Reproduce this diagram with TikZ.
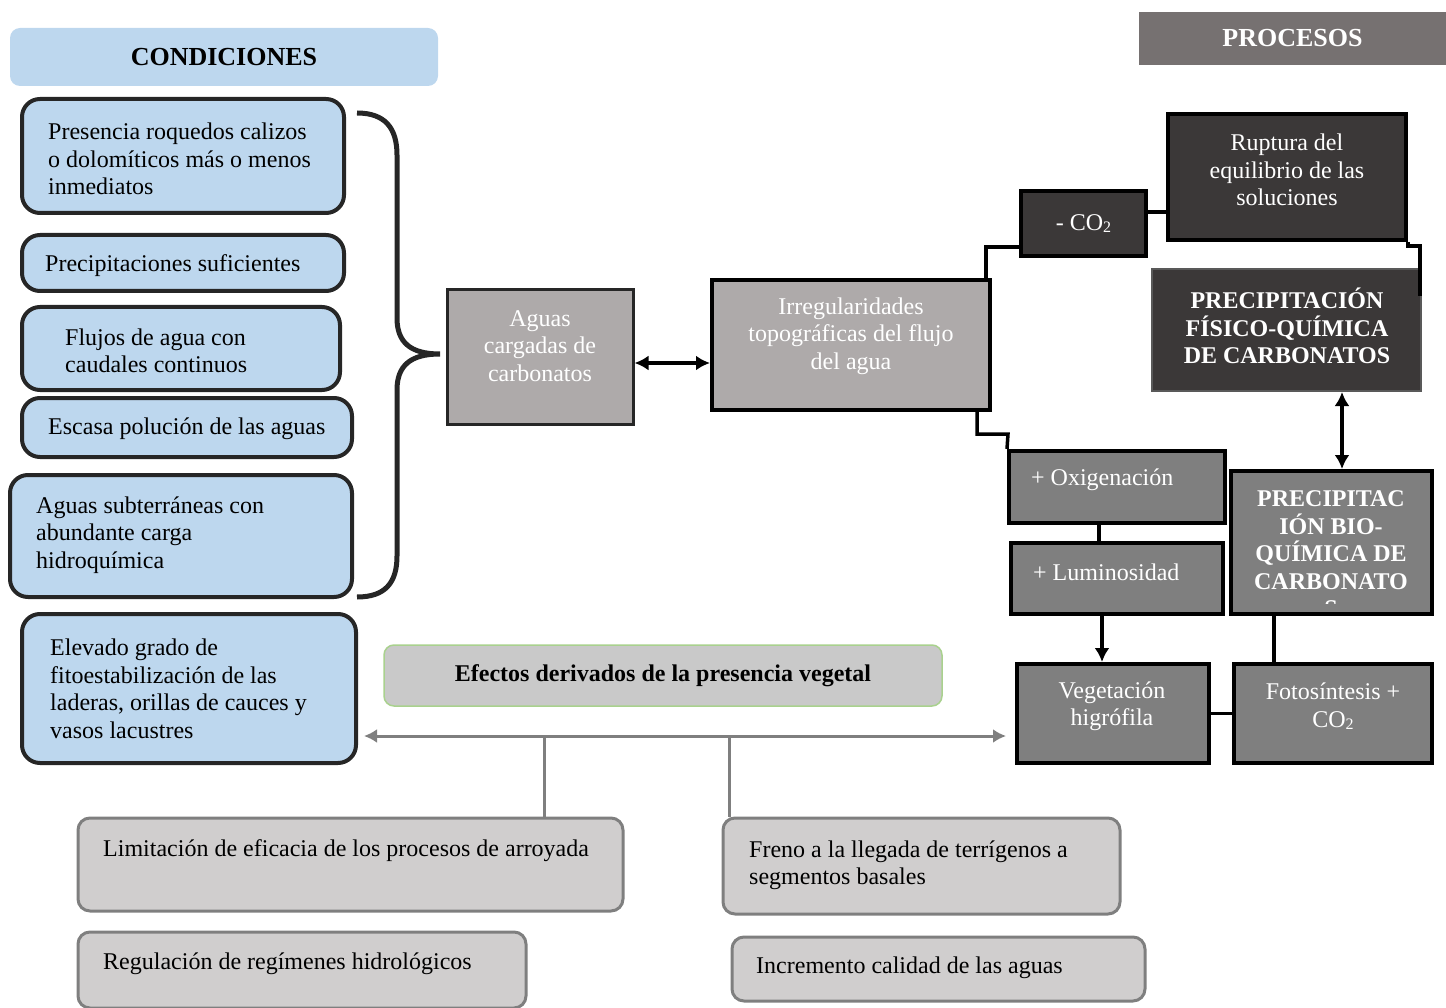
\documentclass[tikz,border=0pt]{standalone}
\usepackage{fontspec}
\setmainfont{Liberation Serif}
\usetikzlibrary{arrows.meta,calc}
\definecolor{cblue}{HTML}{BDD7EE}
\definecolor{cedge}{HTML}{262626}
\definecolor{gmid}{HTML}{AEAAAA}
\definecolor{gdark}{HTML}{3B3838}
\definecolor{ggray}{HTML}{7F7F7F}
\definecolor{ghead}{HTML}{767171}
\definecolor{glight}{HTML}{D0CECE}
\definecolor{gefe}{HTML}{C9C9C9}
\definecolor{ggreen}{HTML}{A9D18E}
\newcommand{\subtwo}{\raisebox{-2pt}{\fontsize{16}{16}\selectfont 2}}
\begin{document}
\begin{tikzpicture}[x=1pt,y=-1pt,
  every node/.style={font=\fontsize{24}{27.5}\selectfont},
  cbox/.style={draw=cedge,line width=4,rounded corners=18,fill=cblue,inner sep=0},
  pbox/.style={draw=black,line width=4,inner sep=0},
  bbox/.style={draw=ggray,line width=3,rounded corners=12,fill=glight,inner sep=0},
  ltext/.style={inner sep=0,anchor=west,align=left},
  wtext/.style={inner sep=0,align=center,text=white},
  blk/.style={draw=black,line width=3.5},
  gry/.style={draw=ggray,line width=3},
  tip/.style={-{Latex[length=14pt,width=15pt]}},
  tips/.style={{Latex[length=14pt,width=15pt]}-{Latex[length=14pt,width=15pt]}}
]
\useasboundingbox (0,0) rectangle (1446,1008);

% headers
\node[fill=cblue,rounded corners=10,minimum width=428,minimum height=58,inner sep=0,font=\fontsize{26}{30}\bfseries] (condh) at (224,57) {CONDICIONES};
\node[fill=ghead,minimum width=307,minimum height=53,inner sep=0,text=white,font=\fontsize{26}{30}\bfseries] (proch) at (1292.5,38.5) {PROCESOS};

% conditions
\node[cbox,minimum width=322,minimum height=114] (c1) at (183,156) {};
\node[ltext] (t1) at (48,159) {Presencia roquedos calizos\\o dolomíticos más o menos\\inmediatos};
\node[cbox,minimum width=322,minimum height=56] (c2) at (183,263) {};
\node[ltext] (t2) at (45,266) {Precipitaciones suficientes};
\node[cbox,minimum width=318,minimum height=83] (c3) at (181,348.5) {};
\node[ltext] (t3) at (65,351) {Flujos de agua con\\caudales continuos};
\node[cbox,minimum width=330,minimum height=59] (c4) at (187,427.5) {};
\node[ltext] (t4) at (48,429) {Escasa polución de las aguas};
\node[cbox,minimum width=342,minimum height=122] (c5) at (181,536) {};
\node[ltext] (t5) at (36,535) {Aguas subterráneas con\\abundante carga\\hidroquímica};
\node[cbox,minimum width=334,minimum height=149] (c6) at (189,688.5) {};
\node[ltext] (t6) at (50,689) {Elevado grado de\\fitoestabilización de las\\laderas, orillas de cauces y\\vasos lacustres};

% brace
\draw[draw=cedge,line width=5] (357,113) .. controls (385,113) and (397,128) .. (397,155) -- (397,318)
  .. controls (397,342) and (410,354) .. (440,354)
  .. controls (410,354) and (397,366) .. (397,390) -- (397,556)
  .. controls (397,583) and (385,597) .. (357,597);

% process boxes
\node[draw=cedge,line width=3,fill=gmid,minimum width=186,minimum height=134,inner sep=0] (aguas) at (540,357) {};
\node[wtext] (taguas) at (540,346) {Aguas\\cargadas de\\carbonatos};
\node[pbox,fill=gmid,minimum width=278,minimum height=130] (irreg) at (851,345) {};
\node[wtext] (tirreg) at (851,336) {Irregularidades\\topográficas del flujo\\del agua};
\node[pbox,fill=gdark,minimum width=125,minimum height=65,text=white] (co2) at (1083.5,223.5) {- CO\subtwo};
\node[pbox,fill=gdark,minimum width=238,minimum height=126] (rupt) at (1287,177) {};
\node[wtext] (trupt) at (1287,170) {Ruptura del\\equilibrio de las\\soluciones};
\node[draw=black!65,line width=2,fill=gdark,minimum width=269,minimum height=122,inner sep=0] (fq) at (1286.5,330) {};
\node[wtext,font=\fontsize{24}{27.5}\selectfont\bfseries] (tfq) at (1287,326) {PRECIPITACIÓN\\FÍSICO-QUÍMICA\\DE CARBONATOS};
\node[pbox,fill=ggray,minimum width=201,minimum height=143] (bio) at (1331.5,542.5) {};
\begin{scope}
\clip (1233,473) rectangle (1430,603);
\node[wtext,font=\fontsize{24}{27.5}\selectfont\bfseries] (tbio) at (1331,554) {PRECIPITAC\\IÓN BIO-\\QUÍMICA DE\\CARBONATO\\S};
\end{scope}
\node[pbox,fill=ggray,minimum width=216,minimum height=72] (oxig) at (1117,487) {};
\node[ltext,text=white] (toxig) at (1031,480) {+ Oxigenación};
\node[pbox,fill=ggray,minimum width=212,minimum height=71] (lum) at (1117,578.5) {};
\node[ltext,text=white] (tlum) at (1033,572) {+ Luminosidad};
\node[pbox,fill=ggray,minimum width=192,minimum height=99] (veg) at (1113,713.5) {};
\node[wtext] (tveg) at (1112,706) {Vegetación\\higrófila};
\node[pbox,fill=ggray,minimum width=198,minimum height=99] (foto) at (1333,713.5) {};
\node[wtext] (tfoto) at (1333,706) {Fotosíntesis +\\CO\subtwo};

% effects
\node[draw=ggreen,line width=1.5,rounded corners=10,fill=gefe,minimum width=558,minimum height=61,inner sep=0,font=\fontsize{24}{27.5}\selectfont\bfseries] (efe) at (663,675.5) {Efectos derivados de la presencia vegetal};
\node[bbox,minimum width=545,minimum height=93] (lim) at (350.5,864.5) {};
\node[ltext] (tlim) at (103,851) {Limitación de eficacia de los procesos de arroyada};
\node[bbox,minimum width=397,minimum height=96] (fre) at (921.5,866) {};
\node[ltext] (tfre) at (749,865) {Freno a la llegada de terrígenos a\\segmentos basales};
\node[bbox,minimum width=448,minimum height=76] (reg) at (302,970) {};
\node[ltext] (treg) at (103,964) {Regulación de regímenes hidrológicos};
\node[bbox,minimum width=413,minimum height=64] (inc) at (938.5,969) {};
\node[ltext] (tinc) at (756,968) {Incremento calidad de las aguas};

% connectors
\draw[blk,tips] (aguas.east |- 0,363) -- (irreg.west |- 0,363);
\draw[blk] (irreg.north -| 986,0) |- (co2.west |- 0,247);
\draw[blk] (co2.east |- 0,212) -- (rupt.west |- 0,212);
\draw[blk] (rupt.south east) -- ++(0,4) -| (fq.north -| 1420,0) -- ++(0,28);
\draw[blk,tips] (fq.south -| 1342,0) -- (bio.north -| 1342,0);
\draw[blk] (irreg.south -| 977,0) |- (1008,434) -- (oxig.north west);
\draw[blk] (oxig.south -| 1099,0) -- (lum.north -| 1099,0);
\draw[blk,tip] (lum.south -| 1102,0) -- (veg.north -| 1102,0);
\draw[blk] (veg.east) -- (foto.west);
\draw[blk] (bio.south -| 1274,0) -- (foto.north -| 1274,0);
\draw[gry,{Latex[length=13pt,width=14pt]}-{Latex[length=13pt,width=14pt]},shorten <=6pt,shorten >=9pt] (c6.east |- 0,736) -- (veg.west |- 0,736);
\draw[gry] (544,736) -- (lim.north -| 544,0);
\draw[gry] (729,736) -- (fre.north -| 729,0);
\end{tikzpicture}
\end{document}
